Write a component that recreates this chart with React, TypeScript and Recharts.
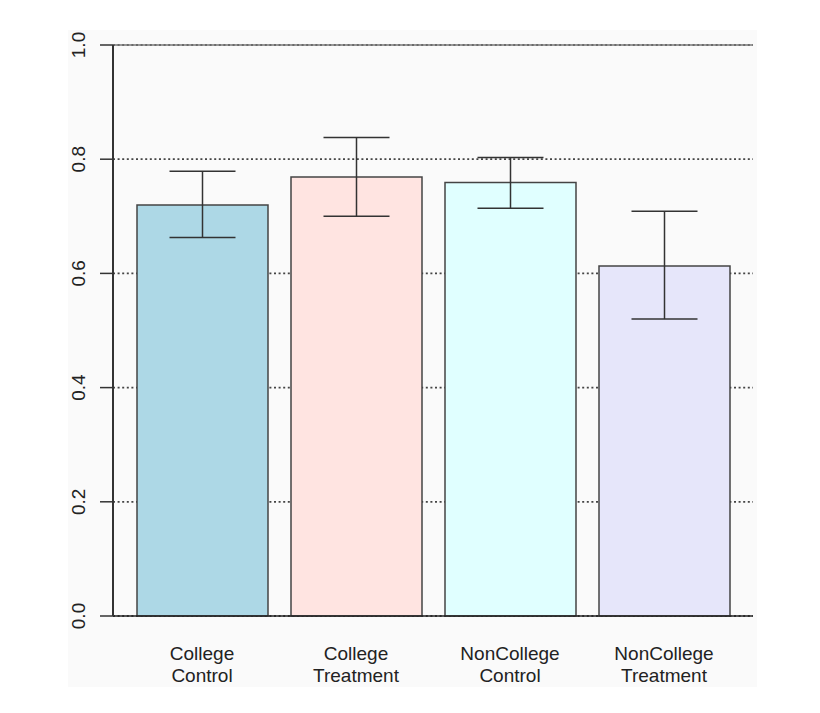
import React from "react";
import { BarChart, Bar, XAxis, YAxis, CartesianGrid, ErrorBar, Cell, ReferenceLine } from "recharts";

const categories = ["College Control", "College Treatment", "NonCollege Control", "NonCollege Treatment"];
const means = [0.72, 0.769, 0.759, 0.613];
const lower = [0.663, 0.7, 0.714, 0.52];
const upper = [0.779, 0.838, 0.803, 0.709];
const colors = ["#ADD8E6", "#FFE4E1", "#E0FFFF", "#E6E6FA"];
const yTicks = [0, 0.2, 0.4, 0.6, 0.8, 1.0];

const data = categories.map((c, i) => ({
  name: c,
  value: means[i],
  err: [means[i] - lower[i], upper[i] - means[i]],
}));

const FONT = "'Liberation Sans', Arial, sans-serif";

const YTick = (props: any) => {
  const { x, y, payload } = props;
  const tx = x - 13;
  return (
    <text
      x={tx}
      y={y}
      transform={`rotate(-90, ${tx}, ${y})`}
      textAnchor="middle"
      fontSize={19}
      fontFamily={FONT}
      fill="#222"
    >
      {Number(payload.value).toFixed(1)}
    </text>
  );
};

const XTick = (props: any) => {
  const { x, y, payload } = props;
  const parts = String(payload.value).split(" ");
  return (
    <text x={x} y={y} textAnchor="middle" fontSize={19} fontFamily={FONT} fill="#222">
      <tspan x={x} dy={44}>{parts[0]}</tspan>
      <tspan x={x} dy={22}>{parts[1]}</tspan>
    </text>
  );
};

export default function App() {
  return (
    <div style={{ width: 820, height: 713, margin: -8, background: "#fff", boxSizing: "border-box", paddingTop: 0 }}>
      <div style={{ position: "relative", width: 820, height: 713 }}>
        <div style={{ position: "absolute", left: 0, top: 0, width: 820, height: 713, background: "#fff" }} />
        <div style={{ position: "absolute", left: 68, top: 30, width: 689, height: 657, background: "#fafafa" }} />
        <div style={{ position: "absolute", left: 3, top: 3, width: 817, height: 2, background: "#333" }} />
        <div style={{ position: "absolute", left: 3, top: 3, width: 2, height: 709, background: "#333" }} />
        <div style={{ position: "absolute", left: 3, top: 710, width: 817, height: 2, background: "#333" }} />
        <div style={{ position: "absolute", left: 0, top: 0 }}>
          <BarChart
            width={820}
            height={713}
            data={data}
            margin={{ top: 45, right: 67, bottom: 37, left: 53 }}
            barSize={131}
            style={{ background: "transparent" }}
          >
            <CartesianGrid
              horizontal
              vertical={false}
              stroke="#444"
              strokeDasharray="2 2.6"
              strokeWidth={1.8}
            />
            <ReferenceLine y={1} stroke="#777" strokeWidth={1.5} />
            <XAxis
              dataKey="name"
              height={60}
              padding={{ left: 12, right: 12 }}
              tickLine={false}
              tickSize={0}
              tickMargin={0}
              axisLine={{ stroke: "#222", strokeWidth: 1.5 }}
              tick={<XTick />}
              interval={0}
            />
            <YAxis
              width={60}
              domain={[0, 1]}
              ticks={yTicks}
              tickSize={13}
              tickLine={{ stroke: "#333", strokeWidth: 1.5 }}
              axisLine={{ stroke: "#333", strokeWidth: 2 }}
              tick={<YTick />}
              interval={0}
            />
            <YAxis
              yAxisId="r"
              orientation="right"
              width={0}
              domain={[0, 1]}
              tick={false}
              tickLine={false}
              axisLine={{ stroke: "#555", strokeWidth: 1.5 }}
            />
            <Bar dataKey="value" stroke="#444" strokeWidth={1.5} isAnimationActive={false}>
              {data.map((d, i) => (
                <Cell key={d.name} fill={colors[i]} />
              ))}
              <ErrorBar dataKey="err" width={33} stroke="#333" strokeWidth={1.5} direction="y" />
            </Bar>
          </BarChart>
        </div>
      </div>
    </div>
  );
}
